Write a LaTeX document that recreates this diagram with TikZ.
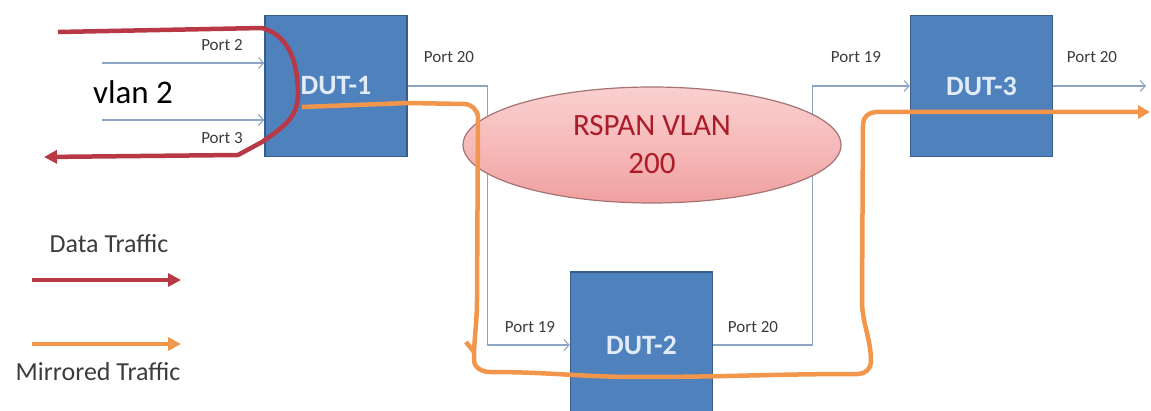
\documentclass[tikz,border=0pt]{standalone}
\usepackage{fontspec}
\setmainfont{Carlito}
\usetikzlibrary{shapes.geometric,arrows.meta}

\definecolor{dutblue}{RGB}{79,129,189}
\definecolor{dutedge}{RGB}{56,93,138}
\definecolor{dutfont}{RGB}{226,236,248}
\definecolor{linkgray}{RGB}{140,165,196}
\definecolor{porttext}{RGB}{60,60,60}
\definecolor{datared}{RGB}{184,56,70}
\definecolor{mirrororange}{RGB}{242,150,76}
\definecolor{vlanred}{RGB}{172,28,40}
\definecolor{vlanedge}{RGB}{165,115,115}

\tikzset{
    dut/.style={draw=dutedge, line width=1.5pt, fill=dutblue, minimum width=142pt, minimum height=141pt,
        inner sep=0pt, text=dutfont, font=\bfseries\fontsize{28}{28}\selectfont},
    link/.style={draw=linkgray, line width=1.1pt, -{Straight Barb[length=5pt,width=11pt]}},
    port/.style={text=porttext, font=\fontsize{17}{17}\selectfont},
    datatraffic/.style={draw=datared, line width=4.5pt, line join=round},
    mirrored/.style={draw=mirrororange, line width=4.5pt, line join=round},
    legendtext/.style={text=porttext, font=\fontsize{26}{26}\selectfont}
}

\begin{document}
\begin{tikzpicture}[x=1pt, y=-1pt]
    \useasboundingbox (0,0) rectangle (1151,411);

    %switches
    \node[dut] (dut1) at (336,86) {DUT-1};
    \node[dut, minimum height=146pt] (dut2) at (641.5,345) {DUT-2};
    \node[dut] (dut3) at (981.5,86) {DUT-3};

    %vlan 2 ports on DUT-1
    \coordinate (p2in) at (102,63);
    \coordinate (p3in) at (102,120);
    \draw[link] (p2in) -- (p2in -| dut1.west);
    \draw[link] (p3in) -- (p3in -| dut1.west);
    \node[port] (p2) at (222,45) {Port 2};
    \node[port] (p3) at (222,138) {Port 3};
    \node[font=\fontsize{33}{33}\selectfont] (vlan) at (133,92) {vlan 2};

    %links through the rspan vlan
    \draw[link] (dut1.east) -- ++(80,0) |- (dut2.west);
    \draw[link] (dut2.east) -- ++(99,0) |- (dut3.west);
    \coordinate (out3) at (1146,86);
    \draw[link] (dut3.east) -- (out3);
    \node[port] (d1p20) at (449,57) {Port 20};
    \node[port] (d3p19) at (856,57) {Port 19};
    \node[port] (d3p20) at (1092,57) {Port 20};
    \node[port] (d2p19) at (530,327) {Port 19};
    \node[port] (d2p20) at (753,327) {Port 20};

    %rspan vlan cloud
    \node[ellipse, draw=vlanedge, line width=1.2pt, top color={rgb,255:red,250;green,208;blue,208},
        bottom color={rgb,255:red,240;green,160;blue,160}, middle color={rgb,255:red,246;green,186;blue,186},
        minimum width=378pt, minimum height=116pt,
        text=vlanred, align=center, font=\fontsize{31}{38}\selectfont] (rspan) at (652,145) {RSPAN VLAN\\200};

    %data traffic
    \draw[datatraffic, -{Triangle[length=13pt,width=13pt]}] (58,32) -- (262,28) to[out=-15,in=90] (298,95)
        to[out=-90,in=35] (262,142) -- (238,155) -- (44,157);

    %mirrored traffic
    \draw[mirrored, -{Triangle[length=12pt,width=13pt]}] (302,107) -- (408,103) -- (464,104) to[out=0,in=90] (478,118)
        -- (477,300) to[out=-90,in=90] (474,360) to[out=-90,in=180] (490,372) to[out=0,in=180] (640,377)
        to[out=0,in=180] (858,374) to[out=0,in=-90] (871,362) to[out=90,in=-90] (862,300) -- (863,124)
        to[out=90,in=180] (876,112) -- (1150,112);
    \draw[mirrored] (466,342) -- (474,352);

    %legend
    \node[legendtext] (datalbl) at (109,244) {Data Traffic};
    \coordinate (dataA) at (32,280);
    \coordinate (dataB) at (181,280);
    \draw[datatraffic, -{Triangle[length=13pt,width=13pt]}] (dataA) -- (dataB);
    \coordinate (mirA) at (32,344);
    \coordinate (mirB) at (181,344);
    \draw[mirrored, -{Triangle[length=13pt,width=13pt]}] (mirA) -- (mirB);
    \node[legendtext] (mirlbl) at (98,372) {Mirrored Traffic};
\end{tikzpicture}
\end{document}
